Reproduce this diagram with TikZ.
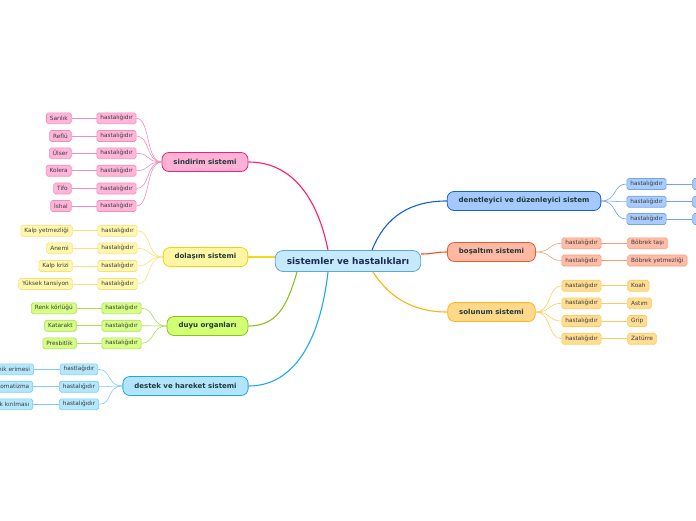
\documentclass[tikz,border=0pt]{standalone}
\usepackage{fontspec}
\setmainfont{DejaVu Sans}
\usetikzlibrary{positioning,calc}

\definecolor{rootline}{HTML}{5CA9DD}
\definecolor{rootfill}{HTML}{C6E9FB}
\definecolor{roottext}{HTML}{1B2C55}
\definecolor{branchtext}{HTML}{1F3A3C}
\definecolor{leaftext}{HTML}{3A3A3A}

\definecolor{sindarm}{HTML}{FF1A75}
\definecolor{sindline}{HTML}{E8247F}
\definecolor{sindfill}{HTML}{FFB1D6}
\definecolor{sindleaf}{HTML}{FFB6D9}
\definecolor{sindedge}{HTML}{F48CBE}

\definecolor{dolaarm}{HTML}{F7D716}
\definecolor{dolaline}{HTML}{EFD40A}
\definecolor{dolafill}{HTML}{FFF6A3}
\definecolor{dolaleaf}{HTML}{FFF7AE}
\definecolor{dolaedge}{HTML}{F5E27A}

\definecolor{duyuarm}{HTML}{8DBF1F}
\definecolor{duyuline}{HTML}{8CC21C}
\definecolor{duyufill}{HTML}{D2FF73}
\definecolor{duyuleaf}{HTML}{D6FF85}
\definecolor{duyuedge}{HTML}{ADDC55}

\definecolor{destarm}{HTML}{1AAAE8}
\definecolor{destline}{HTML}{1CA6E2}
\definecolor{destfill}{HTML}{B2E5FB}
\definecolor{destleaf}{HTML}{B5E7FC}
\definecolor{destedge}{HTML}{7CCCF0}

\definecolor{denearm}{HTML}{1562D6}
\definecolor{deneline}{HTML}{1A5FD4}
\definecolor{denefill}{HTML}{A3C9FD}
\definecolor{deneleaf}{HTML}{A8CCFC}
\definecolor{deneedge}{HTML}{74A4EC}

\definecolor{bosaarm}{HTML}{F24E1F}
\definecolor{bosaline}{HTML}{EE5A2C}
\definecolor{bosafill}{HTML}{FFB9A3}
\definecolor{bosaleaf}{HTML}{FFBDA8}
\definecolor{bosaedge}{HTML}{F8997C}

\definecolor{soluarm}{HTML}{FFB10F}
\definecolor{soluline}{HTML}{FDB41E}
\definecolor{solufill}{HTML}{FFD98A}
\definecolor{soluleaf}{HTML}{FFDD93}
\definecolor{soluedge}{HTML}{FFCB5C}

\begin{document}
\begin{tikzpicture}[x=1pt,y=-1pt,
  root/.style={draw=rootline,fill=rootfill,rounded corners=8pt,line width=0.8pt,
    minimum height=21pt,inner xsep=11.5pt,inner ysep=0pt,
    font=\fontsize{9}{10}\selectfont\bfseries,text=roottext},
  branch/.style={draw=#1line,fill=#1fill,rounded corners=7pt,line width=0.8pt,
    minimum height=19pt,inner xsep=11.5pt,inner ysep=0pt,
    font=\fontsize{7}{8}\selectfont\bfseries,text=branchtext},
  leaf/.style={draw=#1edge,fill=#1leaf,rounded corners=1.8pt,line width=0.6pt,
    minimum height=11pt,inner xsep=3.5pt,inner ysep=0pt,
    font=\fontsize{5.8}{6}\selectfont,text=leaftext},
  arm/.style={draw=#1arm,line width=1.1pt},
  twig/.style={draw=#1edge,line width=0.6pt},
]

  \useasboundingbox (0,0) rectangle (696,520);
  \clip (0,0) rectangle (696,520);

  % centre and branches
  \node[root] (c0) at (348,261) {sistemler ve hastalıkları};

  \node[branch=sind] (s0) at (205,162) {sindirim sistemi};
  \node[branch=dola] (d0) at (205.5,257) {dolaşım sistemi};
  \node[branch=duyu] (u0) at (207.5,326) {duyu organları};
  \node[branch=dest] (h0) at (185.5,386) {destek ve hareket sistemi};
  \node[branch=dene] (n0) at (524,201) {denetleyici ve düzenleyici sistem};
  \node[branch=bosa] (b0) at (491.5,252) {boşaltım sistemi};
  \node[branch=solu] (l0) at (491.5,312) {solunum sistemi};

  % sindirim sistemi
  \node[leaf=sind] (s1) at (116.5,118.3) {hastalığıdır};
  \node[leaf=sind] (s2) at (116.5,136) {hastalığıdır};
  \node[leaf=sind] (s3) at (116.5,153.3) {hastalığıdır};
  \node[leaf=sind] (s4) at (116.5,170.7) {hastalığıdır};
  \node[leaf=sind] (s5) at (116.5,188.5) {hastalığıdır};
  \node[leaf=sind] (s6) at (116.5,206) {hastalığıdır};
  \node[leaf=sind] (sd1) [left=25pt of s1] {Sarılık};
  \node[leaf=sind] (sd2) [left=25pt of s2] {Reflü};
  \node[leaf=sind] (sd3) [left=25pt of s3] {Ülser};
  \node[leaf=sind] (sd4) [left=25pt of s4] {Kolera};
  \node[leaf=sind] (sd5) [left=25pt of s5] {Tifo};
  \node[leaf=sind] (sd6) [left=25pt of s6] {İshal};

  % dolasim sistemi
  \node[leaf=dola] (d1) at (117.5,230.7) {hastalığıdır};
  \node[leaf=dola] (d2) at (117.5,248.3) {hastalığıdır};
  \node[leaf=dola] (d3) at (117.5,266) {hastalığıdır};
  \node[leaf=dola] (d4) at (117.5,284) {hastalığıdır};
  \node[leaf=dola] (dd1) [left=25pt of d1] {Kalp yetmezliği};
  \node[leaf=dola] (dd2) [left=25pt of d2] {Anemi};
  \node[leaf=dola] (dd3) [left=25pt of d3] {Kalp krizi};
  \node[leaf=dola] (dd4) [left=25pt of d4] {Yüksek tansiyon};

  % duyu organlari
  \node[leaf=duyu] (u1) at (121.5,308.3) {hastalığıdır};
  \node[leaf=duyu] (u2) at (121.5,325.7) {hastalığıdır};
  \node[leaf=duyu] (u3) at (121.5,343.3) {hastalığıdır};
  \node[leaf=duyu] (ud1) [left=25pt of u1] {Renk körlüğü};
  \node[leaf=duyu] (ud2) [left=25pt of u2] {Katarakt};
  \node[leaf=duyu] (ud3) [left=25pt of u3] {Presbitlik};

  % destek ve hareket sistemi
  \node[leaf=dest] (h1) at (79,369.3) {hastlağıdır};
  \node[leaf=dest] (h2) at (79,386.7) {hastalığıdır};
  \node[leaf=dest] (h3) at (79,404.3) {hastalığıdır};
  \node[leaf=dest] (hd1) [left=26pt of h1] {Kemik erimesi};
  \node[leaf=dest] (hd2) [left=26pt of h2] {Romatizma};
  \node[leaf=dest] (hd3) [left=26pt of h3] {Kemik kırılması};

  % denetleyici ve duzenleyici sistem
  \node[leaf=dene] (n1) at (646.5,184) {hastalığıdır};
  \node[leaf=dene] (n2) at (646.5,201.7) {hastalığıdır};
  \node[leaf=dene] (n3) at (646.5,219) {hastalığıdır};
  \node[leaf=dene,minimum width=40pt] (nd1) [right=26pt of n1] {};
  \node[leaf=dene,minimum width=40pt] (nd2) [right=26pt of n2] {};
  \node[leaf=dene,minimum width=40pt] (nd3) [right=26pt of n3] {};

  % bosaltim sistemi
  \node[leaf=bosa] (b1) at (581.5,243.3) {hastalığıdır};
  \node[leaf=bosa] (b2) at (581.5,260.5) {hastalığıdır};
  \node[leaf=bosa] (bd1) [right=26pt of b1] {Böbrek taşı};
  \node[leaf=bosa] (bd2) [right=26pt of b2] {Böbrek yetmezliği};

  % solunum sistemi
  \node[leaf=solu] (l1) at (581.5,285.7) {hastalığıdır};
  \node[leaf=solu] (l2) at (581.5,303.3) {hastalığıdır};
  \node[leaf=solu] (l3) at (581.5,321) {hastalığıdır};
  \node[leaf=solu] (l4) at (581.5,338.7) {hastalığıdır};
  \node[leaf=solu] (ld1) [right=26pt of l1] {Koah};
  \node[leaf=solu] (ld2) [right=26pt of l2] {Astım};
  \node[leaf=solu] (ld3) [right=26pt of l3] {Grip};
  \node[leaf=solu] (ld4) [right=26pt of l4] {Zatürre};

  % arms from the centre
  \draw[arm=sind] ($(c0.north)+(-20,0)$) .. controls +(-10,-50) and +(45,0) .. (s0.east);
  \draw[arm=dola] ($(c0.west)+(0,-4)$) .. controls +(-12,0) and +(12,0) .. (d0.east);
  \draw[arm=duyu] ($(c0.south)+(-51,0)$) .. controls +(-10,35) and +(28,0) .. (u0.east);
  \draw[arm=dest] ($(c0.south)+(-20,0)$) .. controls +(-8,70) and +(45,0) .. (h0.east);
  \draw[arm=dene] ($(c0.north)+(24,0)$) .. controls +(14,-35) and +(-35,0) .. (n0.west);
  \draw[arm=bosa] ($(c0.east)+(0,-7)$) .. controls +(12,0) and +(-12,0) .. (b0.west);
  \draw[arm=solu] ($(c0.south)+(25,0)$) .. controls +(16,25) and +(-35,0) .. (l0.west);

  % twigs
  \draw[twig=sind] (s0.west) .. controls +(-16,0) and +(14,0) .. (s1.east);
  \draw[twig=sind] (s0.west) .. controls +(-16,0) and +(14,0) .. (s2.east);
  \draw[twig=sind] (s0.west) .. controls +(-16,0) and +(14,0) .. (s3.east);
  \draw[twig=sind] (s0.west) .. controls +(-16,0) and +(14,0) .. (s4.east);
  \draw[twig=sind] (s0.west) .. controls +(-16,0) and +(14,0) .. (s5.east);
  \draw[twig=sind] (s0.west) .. controls +(-16,0) and +(14,0) .. (s6.east);
  \draw[twig=sind] (s1.west) -- (sd1.east);
  \draw[twig=sind] (s2.west) -- (sd2.east);
  \draw[twig=sind] (s3.west) -- (sd3.east);
  \draw[twig=sind] (s4.west) -- (sd4.east);
  \draw[twig=sind] (s5.west) -- (sd5.east);
  \draw[twig=sind] (s6.west) -- (sd6.east);

  \draw[twig=dola] (d0.west) .. controls +(-16,0) and +(14,0) .. (d1.east);
  \draw[twig=dola] (d0.west) .. controls +(-16,0) and +(14,0) .. (d2.east);
  \draw[twig=dola] (d0.west) .. controls +(-16,0) and +(14,0) .. (d3.east);
  \draw[twig=dola] (d0.west) .. controls +(-16,0) and +(14,0) .. (d4.east);
  \draw[twig=dola] (d1.west) -- (dd1.east);
  \draw[twig=dola] (d2.west) -- (dd2.east);
  \draw[twig=dola] (d3.west) -- (dd3.east);
  \draw[twig=dola] (d4.west) -- (dd4.east);

  \draw[twig=duyu] (u0.west) .. controls +(-16,0) and +(14,0) .. (u1.east);
  \draw[twig=duyu] (u0.west) .. controls +(-16,0) and +(14,0) .. (u2.east);
  \draw[twig=duyu] (u0.west) .. controls +(-16,0) and +(14,0) .. (u3.east);
  \draw[twig=duyu] (u1.west) -- (ud1.east);
  \draw[twig=duyu] (u2.west) -- (ud2.east);
  \draw[twig=duyu] (u3.west) -- (ud3.east);

  \draw[twig=dest] (h0.west) .. controls +(-16,0) and +(14,0) .. (h1.east);
  \draw[twig=dest] (h0.west) .. controls +(-16,0) and +(14,0) .. (h2.east);
  \draw[twig=dest] (h0.west) .. controls +(-16,0) and +(14,0) .. (h3.east);
  \draw[twig=dest] (h1.west) -- (hd1.east);
  \draw[twig=dest] (h2.west) -- (hd2.east);
  \draw[twig=dest] (h3.west) -- (hd3.east);

  \draw[twig=dene] (n0.east) .. controls +(16,0) and +(-14,0) .. (n1.west);
  \draw[twig=dene] (n0.east) .. controls +(16,0) and +(-14,0) .. (n2.west);
  \draw[twig=dene] (n0.east) .. controls +(16,0) and +(-14,0) .. (n3.west);
  \draw[twig=dene] (n1.east) -- (nd1.west);
  \draw[twig=dene] (n2.east) -- (nd2.west);
  \draw[twig=dene] (n3.east) -- (nd3.west);

  \draw[twig=bosa] (b0.east) .. controls +(16,0) and +(-14,0) .. (b1.west);
  \draw[twig=bosa] (b0.east) .. controls +(16,0) and +(-14,0) .. (b2.west);
  \draw[twig=bosa] (b1.east) -- (bd1.west);
  \draw[twig=bosa] (b2.east) -- (bd2.west);

  \draw[twig=solu] (l0.east) .. controls +(16,0) and +(-14,0) .. (l1.west);
  \draw[twig=solu] (l0.east) .. controls +(16,0) and +(-14,0) .. (l2.west);
  \draw[twig=solu] (l0.east) .. controls +(16,0) and +(-14,0) .. (l3.west);
  \draw[twig=solu] (l0.east) .. controls +(16,0) and +(-14,0) .. (l4.west);
  \draw[twig=solu] (l1.east) -- (ld1.west);
  \draw[twig=solu] (l2.east) -- (ld2.west);
  \draw[twig=solu] (l3.east) -- (ld3.west);
  \draw[twig=solu] (l4.east) -- (ld4.west);

\end{tikzpicture}
\end{document}
